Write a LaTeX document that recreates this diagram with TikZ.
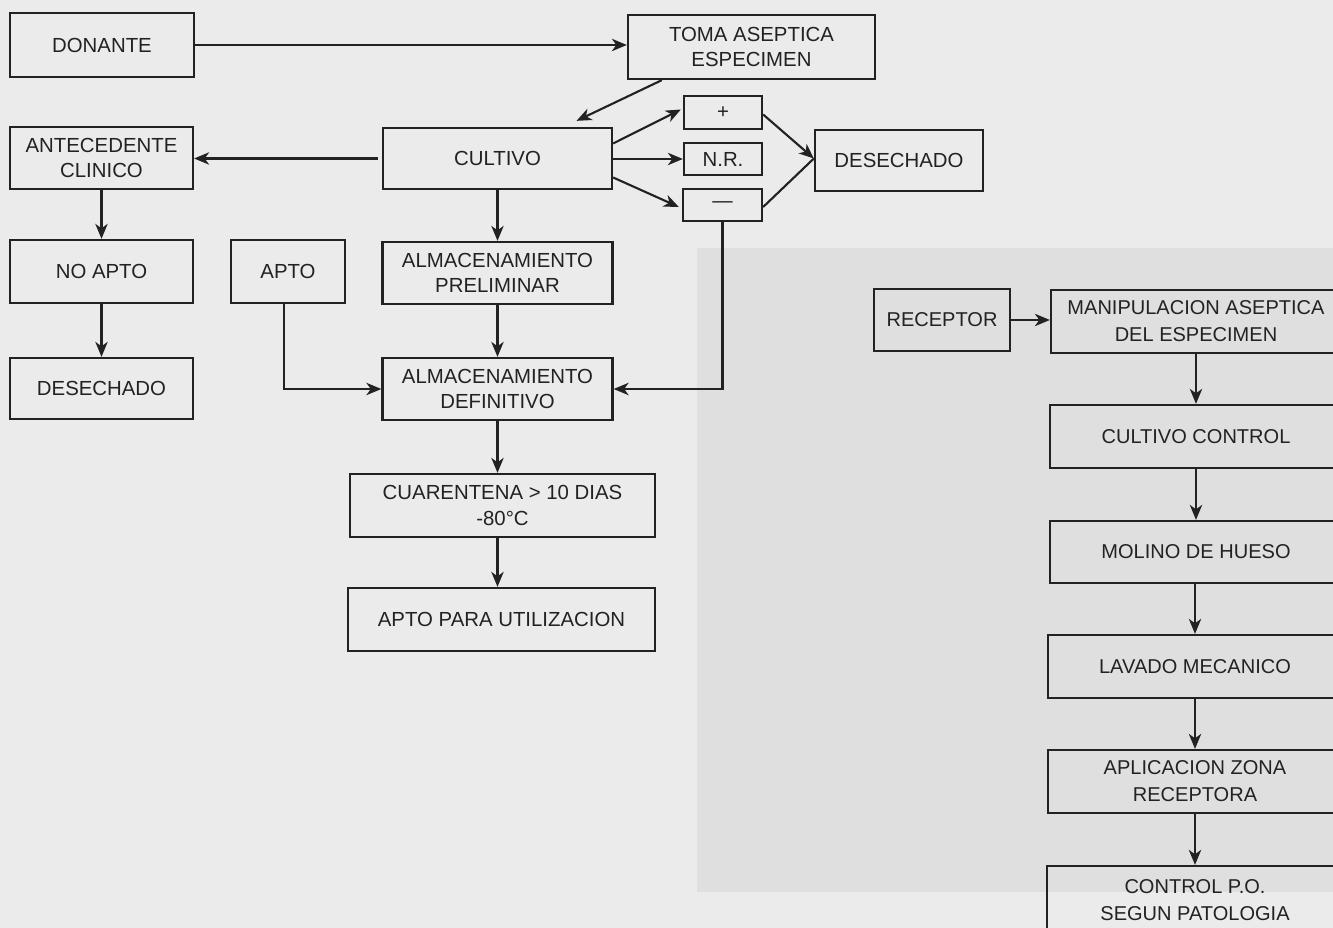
\documentclass[tikz,border=0pt]{standalone}
\usepackage{fontspec}
\setmainfont{Liberation Sans}
\usetikzlibrary{arrows.meta,calc}
\definecolor{paper}{HTML}{EBEBEB}
\definecolor{panel}{HTML}{DFDFDF}
\definecolor{ink}{HTML}{222222}
\tikzset{
  bx/.style 2 args={draw=ink, line width=1.3pt, rectangle, inner sep=0pt, align=center,
     minimum width=#1*0.02cm, minimum height=#2*0.02cm, text=ink,
     font=\fontsize{11.6}{14.5}\selectfont},
  rbx/.style 2 args={bx={#1}{#2}, font=\fontsize{11.4}{15.3}\selectfont},
  arr/.style={draw=ink, line width=1.2pt, -{Stealth[length=8.5pt,width=7pt,inset=2.5pt]}},
  ln/.style={draw=ink, line width=1.2pt}
}
\begin{document}
\begin{tikzpicture}[x=0.02cm,y=-0.02cm]
\useasboundingbox (0,0) rectangle (1333,928);
\clip (0,0) rectangle (1333,928);
\fill[paper] (0,0) rectangle (1333,928);
\fill[panel] (697,248) rectangle (1333,892);

% left part
\node[bx={184}{64}] (donante) at (102,45) {DONANTE};
\node[bx={247}{64}] (toma) at (751.5,47) {TOMA ASEPTICA\\ESPECIMEN};
\node[bx={183}{62}] (antec) at (101.5,158) {ANTECEDENTE\\CLINICO};
\node[bx={229}{61}] (cultivo) at (497.5,158.5) {CULTIVO};
\node[bx={78}{33}] (plus) at (723,112.5) {+};
\node[bx={78}{32}] (nr) at (723,159) {N.R.};
\node[bx={79}{32}] (minus) at (722.5,205) {—};
\node[bx={168}{61}] (desR) at (899,160.5) {DESECHADO};
\node[bx={183}{63}] (noapto) at (101.5,271.5) {NO APTO};
\node[bx={114}{63}] (apto) at (288,271.5) {APTO};
\node[bx={230}{62}] (almpre) at (497.5,273) {ALMACENAMIENTO\\PRELIMINAR};
\node[bx={183}{61}] (desL) at (101.5,388.5) {DESECHADO};
\node[bx={230}{62}] (almdef) at (497.5,389) {ALMACENAMIENTO\\DEFINITIVO};
\node[bx={305}{63}] (cuar) at (502.5,505.5) {CUARENTENA > 10 DIAS\\-80°C};
\node[bx={307}{63}] (aptou) at (501.5,619.5) {APTO PARA UTILIZACION};

% right part
\node[rbx={136}{62}] (receptor) at (942,320) {RECEPTOR};
\node[rbx={290}{63}] (manip) at (1196,321.5) {MANIPULACION ASEPTICA\\DEL ESPECIMEN};
\node[rbx={292}{63}] (cctrl) at (1196,436.5) {CULTIVO CONTROL};
\node[rbx={292}{62}] (molino) at (1196,552) {MOLINO DE HUESO};
\node[rbx={294}{63}] (lavado) at (1195,666.5) {LAVADO MECANICO};
\node[rbx={294}{63}] (aplic) at (1195,781.5) {APLICACION ZONA\\RECEPTORA};
\node[rbx={296}{68}] (ctrlpo) at (1195,900) {CONTROL P.O.\\SEGUN PATOLOGIA};

% connectors left
\draw[arr] (donante.east) -- (donante.east -| toma.west);
\coordinate (tomaout) at ($(toma.south west)+(35,0)$);
\coordinate (cultin) at ($(cultivo.north)+(79,-6)$);
\draw[arr] (tomaout) -- (cultin);
\draw[arr] ($(cultivo.west)+(-4,0)$) -- (cultivo.west -| antec.east);
\draw[arr] ($(cultivo.east)+(0,-15)$) -- ($(plus.west)+(-2,-3)$);
\draw[arr] (nr.west -| cultivo.east) -- (nr.west);
\draw[arr] ($(cultivo.east)+(0,19)$) -- ($(minus.west)+(-3,2)$);
\draw[arr] ($(plus.east)+(0,2)$) -- ($(desR.west)+(0,-2)$);
\draw[ln] ($(minus.east)+(0,2)$) -- ($(desR.west)+(0,-2)$);
\draw[arr] (cultivo.south) -- (almpre.north);
\draw[arr] (antec.south) -- (noapto.north);
\draw[arr] (noapto.south) -- (desL.north);
\draw[arr] ($(apto.south)+(-4,0)$) |- (almdef.west);
\draw[arr] (almpre.south) -- (almdef.north);
\draw[arr] (minus.south) |- (almdef.east);
\draw[arr] (almdef.south) -- (almdef.south |- cuar.north);
\draw[arr] (almdef.south |- cuar.south) -- (almdef.south |- aptou.north);

% connectors right
\draw[arr] (receptor.east) -- (manip.west |- receptor.east);
\draw[arr] (manip.south) -- (manip.south |- cctrl.north);
\draw[arr] (manip.south |- cctrl.south) -- (manip.south |- molino.north);
\draw[arr] (lavado.north |- molino.south) -- (lavado.north);
\draw[arr] (lavado.south) -- (aplic.north);
\draw[arr] (aplic.south) -- (ctrlpo.north);
\end{tikzpicture}
\end{document}
